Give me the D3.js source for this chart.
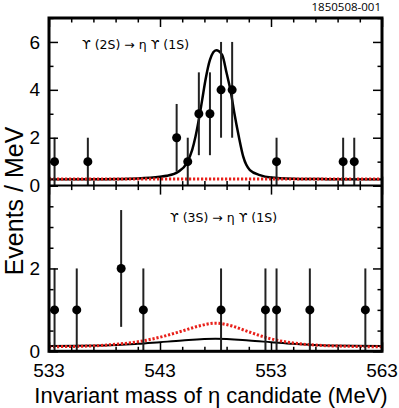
<!DOCTYPE html>
<html>
<head>
<meta charset="utf-8">
<script src="https://cdn.jsdelivr.net/npm/d3@7"></script>
<style>
  body { margin: 0; background: #fff; }
  svg { display: block; }
</style>
</head>
<body>
<svg width="399" height="408"></svg>
<script>
// bins are 1 MeV wide, centred on half-integers
var topMass = [533.5, 536.5, 544.5, 545.5, 546.5, 547.5, 548.5, 549.5, 553.5, 559.5, 560.5];
var topEvents = [1, 1, 2, 1, 3, 3, 4, 4, 1, 1, 1];
var topErrLo = [0, 0, 0.59, 0, 1.27, 1.27, 2, 2, 0, 0, 0];
var topErrHi = [2, 2, 3.41, 2, 4.73, 4.73, 6, 6, 2, 2, 2];

var botMass = [533.5, 535.5, 539.5, 541.5, 548.5, 552.5, 553.5, 556.5, 561.5];
var botEvents = [1, 1, 2, 1, 1, 1, 1, 1, 1];
var botErrLo = [0, 0, 0.59, 0, 0, 0, 0, 0, 0];
var botErrHi = [2, 2, 3.41, 2, 2, 2, 2, 2, 2];

// fit curves
var topFitX = [533, 538, 541, 543, 543.6, 544.65, 545.4, 545.9, 546.2, 546.6, 546.8, 547.1, 547.5, 548.06,
               548.6, 549.0, 549.4, 549.7, 550.1, 550.5, 551.1, 552.0, 553, 555, 558, 563];
var topFitY = [0.26, 0.27, 0.3, 0.37, 0.41, 0.58, 0.93, 1.49, 2.05, 3.02, 3.58, 4.42, 5.25, 5.65,
               5.46, 4.7, 3.86, 3.02, 2.05, 1.21, 0.65, 0.44, 0.34, 0.29, 0.27, 0.26];
var topBkgX = [533, 563];
var topBkgY = [0.28, 0.28];

var botFitX = [533, 538, 541, 543, 545, 548, 551, 553, 555, 558, 563];
var botFitY = [0.13, 0.14, 0.18, 0.22, 0.26, 0.3, 0.26, 0.22, 0.18, 0.14, 0.13];
var botSigX = [533, 537, 539, 541, 543, 545, 546.5, 548, 549.5, 551, 553, 555, 557, 560, 563];
var botSigY = [0.11, 0.13, 0.17, 0.23, 0.34, 0.49, 0.61, 0.68, 0.61, 0.47, 0.3, 0.2, 0.15, 0.12, 0.11];

var xMajor = [533, 543, 553, 563];
var xMinor = [535, 537, 539, 541, 545, 547, 549, 551, 555, 557, 559, 561];
var topYMajor = [0, 2, 4, 6];
var topYMinor = [1, 3, 5, 7];
var botYMajor = [0, 2, 4];
var botYMinor = [0.5, 1, 1.5, 2.5, 3, 3.5];

var svg = d3.select("svg");
var pLeft = 49, pRight = 382, pTop = 18, pMid = 185.6, pBottom = 351.3;

var x = d3.scaleLinear().domain([533, 563]).range([pLeft, pRight]);
var yTop = d3.scaleLinear().domain([0, 7]).range([pMid, pTop]);
var yBot = d3.scaleLinear().domain([0, 4]).range([pBottom, pMid]);

var font = "'Liberation Sans', Arial, Helvetica, sans-serif";

function panel(y, mass, ev, lo, hi, curves, yMajor, yMinor, yTicksLabeled) {
  var g = svg.append("g");
  var y0 = y.range()[0], y1 = y.range()[1];

  // curves
  curves.forEach(function(c) {
    var pts = c.xs.map(function(v, i) { return [v, c.ys[i]]; });
    g.append("path")
      .datum(pts)
      .attr("fill", "none")
      .attr("stroke", c.color)
      .attr("stroke-width", c.width)
      .attr("stroke-dasharray", c.dash || null)
      .attr("d", d3.line().curve(d3.curveMonotoneX)
        .x(function(d) { return x(d[0]); })
        .y(function(d) { return y(d[1]); }));
  });

  // error bars
  g.append("g").selectAll("line")
    .data(mass)
    .join("line")
      .attr("x1", function(d) { return x(d); })
      .attr("x2", function(d) { return x(d); })
      .attr("y1", function(d, i) { return y(lo[i]); })
      .attr("y2", function(d, i) { return y(hi[i]); })
      .attr("stroke", "#222")
      .attr("stroke-width", 2);

  g.append("g").selectAll("circle")
    .data(mass)
    .join("circle")
      .attr("cx", function(d) { return x(d); })
      .attr("cy", function(d, i) { return y(ev[i]); })
      .attr("r", 4.5)
      .attr("fill", "#000");

  // x ticks on the lower and upper edge, pointing in
  g.append("g").attr("transform", "translate(0," + y0 + ")")
    .call(d3.axisBottom(x).tickValues(xMajor).tickSize(-9).tickFormat(""));
  g.append("g").attr("transform", "translate(0," + y0 + ")")
    .call(d3.axisBottom(x).tickValues(xMinor).tickSize(-4.5).tickFormat(""));
  g.append("g").attr("transform", "translate(0," + y1 + ")")
    .call(d3.axisTop(x).tickValues(xMajor).tickSize(-9).tickFormat(""));
  g.append("g").attr("transform", "translate(0," + y1 + ")")
    .call(d3.axisTop(x).tickValues(xMinor).tickSize(-4.5).tickFormat(""));

  // y ticks on both sides
  var yl = g.append("g").attr("transform", "translate(" + pLeft + ",0)")
    .call(d3.axisLeft(y).tickValues(yMajor).tickSize(-9).tickPadding(9)
      .tickFormat(function(d) { return yTicksLabeled.indexOf(d) >= 0 ? d : ""; }));
  g.append("g").attr("transform", "translate(" + pLeft + ",0)")
    .call(d3.axisLeft(y).tickValues(yMinor).tickSize(-4.5).tickFormat(""));
  g.append("g").attr("transform", "translate(" + pRight + ",0)")
    .call(d3.axisRight(y).tickValues(yMajor).tickSize(-9).tickFormat(""));
  g.append("g").attr("transform", "translate(" + pRight + ",0)")
    .call(d3.axisRight(y).tickValues(yMinor).tickSize(-4.5).tickFormat(""));

  g.selectAll(".domain").remove();
  g.selectAll(".tick line").attr("stroke", "#000").attr("stroke-width", 1.5);
  yl.selectAll("text").attr("font-family", font).attr("font-size", 19).attr("fill", "#000");
  return g;
}

panel(yTop, topMass, topEvents, topErrLo, topErrHi, [
  { xs: topFitX, ys: topFitY, color: "#000", width: 2.5 },
  { xs: topBkgX, ys: topBkgY, color: "#e8201a", width: 3, dash: "2.2,1.8" }
], topYMajor, topYMinor, [0, 2, 4, 6]);

panel(yBot, botMass, botEvents, botErrLo, botErrHi, [
  { xs: botFitX, ys: botFitY, color: "#000", width: 2 },
  { xs: botSigX, ys: botSigY, color: "#e8201a", width: 3, dash: "2.2,1.8" }
], botYMajor, botYMinor, [0, 2]);

// frame
svg.append("rect")
  .attr("x", pLeft).attr("y", pTop)
  .attr("width", pRight - pLeft).attr("height", pBottom - pTop)
  .attr("fill", "none").attr("stroke", "#000").attr("stroke-width", 3);
svg.append("line")
  .attr("x1", pLeft).attr("x2", pRight).attr("y1", pMid).attr("y2", pMid)
  .attr("stroke", "#000").attr("stroke-width", 2);

// x tick labels
svg.append("g").selectAll("text")
  .data(xMajor)
  .join("text")
    .attr("x", function(d) { return x(d); })
    .attr("y", 377)
    .attr("text-anchor", "middle")
    .attr("font-family", font).attr("font-size", 19)
    .text(function(d) { return d; });

svg.append("text")
  .attr("x", 211).attr("y", 403)
  .attr("text-anchor", "middle")
  .attr("font-family", font).attr("font-size", 22)
  .text("Invariant mass of η candidate (MeV)");

svg.append("text")
  .attr("transform", "translate(23,201) rotate(-90)")
  .attr("text-anchor", "middle")
  .attr("font-family", font).attr("font-size", 25)
  .text("Events / MeV");

svg.append("text")
  .attr("x", 381).attr("y", 11)
  .attr("text-anchor", "end")
  .attr("font-family", "'Open Sans', sans-serif").attr("font-size", 11.5)
  .text("1850508-001");

var annoFont = "'DejaVu Sans', sans-serif";
svg.append("text")
  .attr("x", 82).attr("y", 49)
  .attr("font-family", annoFont).attr("font-size", 12.5)
  .text("ϒ (2S) → η ϒ (1S)");
svg.append("text")
  .attr("x", 170).attr("y", 222)
  .attr("font-family", annoFont).attr("font-size", 12.5)
  .text("ϒ (3S) → η ϒ (1S)");
</script>
</body>
</html>
